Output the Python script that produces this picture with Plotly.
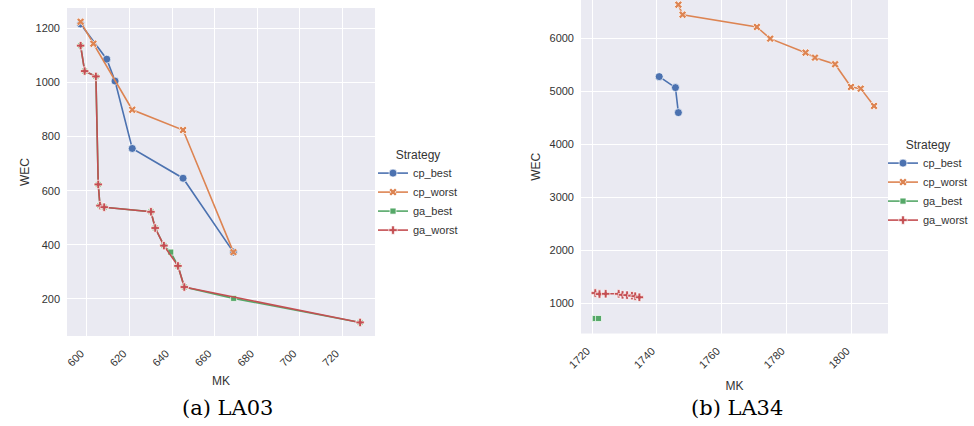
import plotly.graph_objects as go

# ---------------- data: LA03 ----------------
la03_cp_best_mk = [597, 609.3, 613.2, 621.3, 645.2, 668.9]
la03_cp_best_wec = [1216, 1086, 1005, 756, 646, 373]
la03_cp_worst_mk = [597, 603, 621.3, 645.2, 668.9]
la03_cp_worst_wec = [1224, 1143, 899, 824, 373]
la03_ga_best_mk = [597, 598.9, 604.2, 605.3, 606.1, 608.1, 630.1, 632.1, 636.2, 639.4, 642.8, 645.8, 669, 728.5]
la03_ga_best_wec = [1136, 1042, 1022, 623, 545, 539, 522, 462, 397, 373, 322, 244, 202, 113]
la03_ga_worst_mk = [597, 598.9, 604.2, 605.3, 606.1, 608.1, 630.1, 632.1, 636.2, 642.8, 645.8, 728.5]
la03_ga_worst_wec = [1136, 1042, 1022, 623, 545, 539, 522, 462, 397, 322, 244, 113]

# ---------------- data: LA34 ----------------
la34_cp_best_mk = [1740.7, 1745.7, 1746.6]
la34_cp_best_wec = [5277, 5070, 4599]
la34_cp_worst_mk = [1746.6, 1747.9, 1770.8, 1774.9, 1785.8, 1788.7, 1794.9, 1799.8, 1802.8, 1806.9]
la34_cp_worst_wec = [6633, 6444, 6213, 5993, 5729, 5635, 5510, 5083, 5051, 4725]
la34_ga_best_mk = [1721, 1722]
la34_ga_best_wec = [720, 720]
la34_ga_worst_mk = [1721, 1722.3, 1724.2, 1728.2, 1729.4, 1730.8, 1732.3, 1733.3, 1734.6]
la34_ga_worst_wec = [1200, 1180, 1185, 1185, 1165, 1160, 1150, 1140, 1120]

la03_x_ticks = [600, 620, 640, 660, 680, 700, 720]
la03_y_ticks = [200, 400, 600, 800, 1000, 1200]
la34_x_ticks = [1720, 1740, 1760, 1780, 1800]
la34_y_ticks = [1000, 2000, 3000, 4000, 5000, 6000]

strategies = ["cp_best", "cp_worst", "ga_best", "ga_worst"]
colors = {"cp_best": "#4C72B0", "cp_worst": "#DD8452", "ga_best": "#55A868", "ga_worst": "#C44E52"}
symbols = {"cp_best": "circle", "cp_worst": "x", "ga_best": "square", "ga_worst": "cross"}
sizes = {"cp_best": 8, "cp_worst": 7, "ga_best": 6, "ga_worst": 7}

W, H = 974, 426
TXT = "#333333"
FONT = "Liberation Sans, Arial, sans-serif"
SERIF = "DejaVu Serif, Liberation Serif, serif"

fig = go.Figure()

panels = [
    ("x", "y", "legend", {
        "cp_best": (la03_cp_best_mk, la03_cp_best_wec),
        "cp_worst": (la03_cp_worst_mk, la03_cp_worst_wec),
        "ga_best": (la03_ga_best_mk, la03_ga_best_wec),
        "ga_worst": (la03_ga_worst_mk, la03_ga_worst_wec),
    }),
    ("x2", "y2", "legend2", {
        "cp_best": (la34_cp_best_mk, la34_cp_best_wec),
        "cp_worst": (la34_cp_worst_mk, la34_cp_worst_wec),
        "ga_best": (la34_ga_best_mk, la34_ga_best_wec),
        "ga_worst": (la34_ga_worst_mk, la34_ga_worst_wec),
    }),
]

for xa, ya, lg, series in panels:
    for s in strategies:
        mk, wec = series[s]
        fig.add_trace(go.Scatter(
            x=mk, y=wec, mode="lines+markers", name=s,
            xaxis=xa, yaxis=ya, legend=lg,
            line=dict(color=colors[s], width=1.6),
            marker=dict(symbol=symbols[s], size=sizes[s], color=colors[s],
                        line=dict(color="white", width=0.7)),
        ))

def px2fx(p):
    return p / W

def py2fy(p):
    return 1 - p / H

axis_common = dict(
    showgrid=True, gridcolor="white", gridwidth=1, zeroline=False,
    showline=False, ticks="", automargin=False,
    tickfont=dict(size=11, color=TXT, family=FONT),
    title_font=dict(size=12, color=TXT, family=FONT),
)

legend_common = dict(
    xanchor="left", yanchor="top",
    font=dict(size=11, color=TXT, family=FONT), bgcolor="rgba(0,0,0,0)",
    itemwidth=30, tracegroupgap=0,
)

fig.update_layout(
    template="none",
    width=W, height=H,
    margin=dict(l=0, r=0, t=0, b=0),
    paper_bgcolor="white", plot_bgcolor="#EAEAF2",
    font=dict(family=FONT, color=TXT),
    xaxis=dict(domain=[px2fx(67), px2fx(375)], range=[590.6, 735.5], anchor="y",
               tickvals=la03_x_ticks, tickangle=-45, ticklabelshift=-6, ticklabelstandoff=8,
               title=dict(text="MK", standoff=8), **axis_common),
    yaxis=dict(domain=[py2fy(336), py2fy(8)], range=[63, 1275], anchor="x",
               tickvals=la03_y_ticks, ticklabelstandoff=6,
               title=dict(text="WEC", standoff=3), **axis_common),
    xaxis2=dict(domain=[px2fx(581), px2fx(888)], range=[1716.6, 1811.2], anchor="y2",
                tickvals=la34_x_ticks, tickangle=-45, ticklabelshift=-5, ticklabelstandoff=8,
                title=dict(text="MK", standoff=11), **axis_common),
    yaxis2=dict(domain=[py2fy(333.5), 1.0], range=[437, 6721], anchor="x2",
                tickvals=la34_y_ticks, ticklabelstandoff=6,
                title=dict(text="WEC", standoff=6), **axis_common),
    legend=dict(x=px2fx(373), y=py2fy(143),
                title=dict(text="Strategy", side="top center",
                           font=dict(size=12, color=TXT, family=FONT)),
                **legend_common),
    legend2=dict(x=px2fx(883), y=py2fy(133),
                 title=dict(text="Strategy", side="top center",
                            font=dict(size=12, color=TXT, family=FONT)),
                 **legend_common),
    annotations=[
        dict(text="(a) LA03", x=px2fx(227), y=py2fy(408), xref="paper", yref="paper",
             showarrow=False, xanchor="center", yanchor="middle",
             font=dict(family=SERIF, size=21, color="black")),
        dict(text="(b) LA34", x=px2fx(737), y=py2fy(408), xref="paper", yref="paper",
             showarrow=False, xanchor="center", yanchor="middle",
             font=dict(family=SERIF, size=21, color="black")),
    ],
)

fig.write_html("out.html", config={"displayModeBar": False},
               post_script="document.body.style.margin='0px';")
